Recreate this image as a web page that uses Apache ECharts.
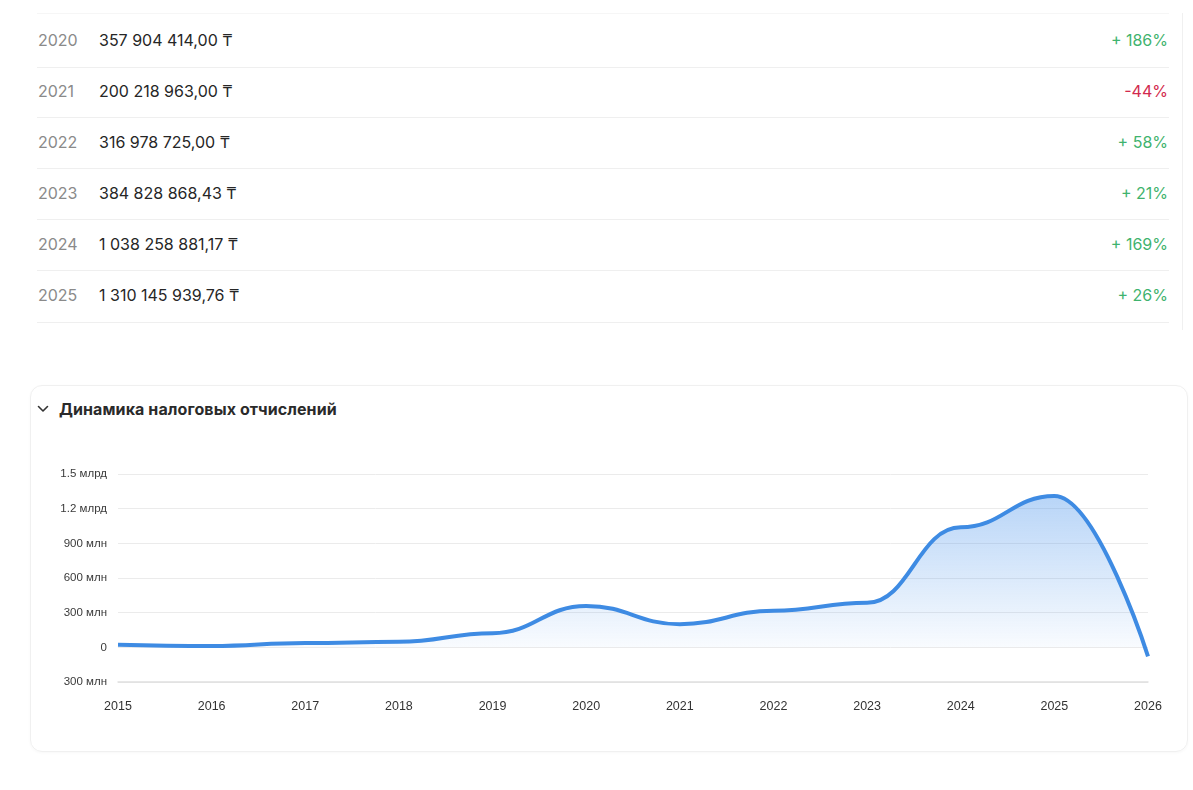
<!DOCTYPE html>
<html><head><meta charset="utf-8">
<script src="https://cdn.jsdelivr.net/npm/echarts@6/dist/echarts.min.js"></script>
<style>
html,body{margin:0;padding:0;background:#fff;width:1193px;height:790px;overflow:hidden;font-family:Inter,"Noto Sans",sans-serif;}
#tableCard{position:absolute;left:30px;top:13px;width:1152px;height:317px;border-right:1px solid #f0f0f0;}
.sep{position:absolute;left:7px;width:1132px;height:0;border-top:1px solid #efefef;}
.cell{position:absolute;font-size:16px;line-height:20px;}
.yr{left:8px;color:#8a8a8a;}
.amt{left:69px;color:#262626;}
.pct{right:14px;}
#chartCard{position:absolute;left:30px;top:385px;width:1158px;height:367px;border:1px solid #f0f0f0;border-radius:12px;box-sizing:border-box;box-shadow:0 1px 3px rgba(0,0,0,0.03);}
#title{position:absolute;left:59px;top:399px;font-size:16px;font-weight:700;color:#2a2a2a;letter-spacing:0.1px;}
#chev{position:absolute;left:37px;top:404px;}
#chart{position:absolute;left:0;top:0;width:1193px;height:790px;}
</style></head>
<body>
<div id="tableCard"></div>
<div id="chartCard"></div>
<svg id="chev" width="12" height="10" viewBox="0 0 12 10"><path d="M1.5 2.5 L6 7 L10.5 2.5" fill="none" stroke="#333" stroke-width="1.6" stroke-linecap="round" stroke-linejoin="round"/></svg>
<div id="title">Динамика налоговых отчислений</div>
<div id="chart"></div>
<script>
// Table data
const tableYears = ['2020','2021','2022','2023','2024','2025'];
const tableAmounts = ['357 904 414,00 ₸','200 218 963,00 ₸','316 978 725,00 ₸','384 828 868,43 ₸','1 038 258 881,17 ₸','1 310 145 939,76 ₸'];
const tableChanges = ['+ 186%','-44%','+ 58%','+ 21%','+ 169%','+ 26%'];

// Chart data
const years = ['2015','2016','2017','2018','2019','2020','2021','2022','2023','2024','2025','2026'];
const taxValues = [23000000, 11000000, 37000000, 48000000, 122000000, 357904414, 200218963, 316978725, 384828868.43, 1038258881.17, 1310145939.76, -78000000];

const card = document.getElementById('tableCard');
const sepTops = [0, 54, 104, 155, 206, 257, 309];
sepTops.forEach((t,i)=>{
  const s=document.createElement('div'); s.className='sep'; s.style.top=t+'px';
  if(i===0) s.style.borderTopColor='#f6f6f6';
  card.appendChild(s);
});
tableYears.forEach((y,i)=>{
  const top = 17 + i*51;
  const neg = tableChanges[i].trim().startsWith('-');
  const a=document.createElement('span'); a.className='cell yr'; a.style.top=top+'px'; a.textContent=y; card.appendChild(a);
  const b=document.createElement('span'); b.className='cell amt'; b.style.top=top+'px'; b.textContent=tableAmounts[i]; card.appendChild(b);
  const c=document.createElement('span'); c.className='cell pct'; c.style.top=top+'px'; c.style.color=neg?'#d22a4e':'#3fb36e'; c.textContent=tableChanges[i]; card.appendChild(c);
});

const chart = echarts.init(document.getElementById('chart'));
function fmt(v){
  const a=Math.abs(v);
  if(a===0) return '0';
  if(a>=1e9) return (+(a/1e9).toFixed(2))+' млрд';
  return (+(a/1e6).toFixed(0))+' млн';
}
chart.setOption({
  animation:false,
  grid:{left:118,right:45,top:474,bottom:108,containLabel:false},
  xAxis:{type:'category',data:years,boundaryGap:false,
    axisLine:{show:true,onZero:false,lineStyle:{color:'#e0e0e0',width:1.5}},
    axisTick:{show:false},
    axisLabel:{color:'#333',fontSize:12.5,margin:18,fontFamily:'"Liberation Sans",Arial,sans-serif'}},
  yAxis:{type:'value',min:-300000000,max:1500000000,interval:300000000,
    axisLine:{show:false},axisTick:{show:false},
    splitLine:{lineStyle:{color:'#ebebeb',width:1}},
    axisLabel:{color:'#3a3a3a',fontSize:11.5,margin:11,formatter:fmt,fontFamily:'"Liberation Sans",Arial,sans-serif'}},
  series:[{type:'line',data:taxValues,smooth:0.45,smoothMonotone:'x',symbol:'none',
    lineStyle:{color:'#3e8be3',width:4},
    areaStyle:{color:new echarts.graphic.LinearGradient(0,0,0,1,[{offset:0,color:'rgba(70,145,235,0.55)'},{offset:1,color:'rgba(70,145,235,0.02)'}])}
  }]
});
</script>
</body></html>
